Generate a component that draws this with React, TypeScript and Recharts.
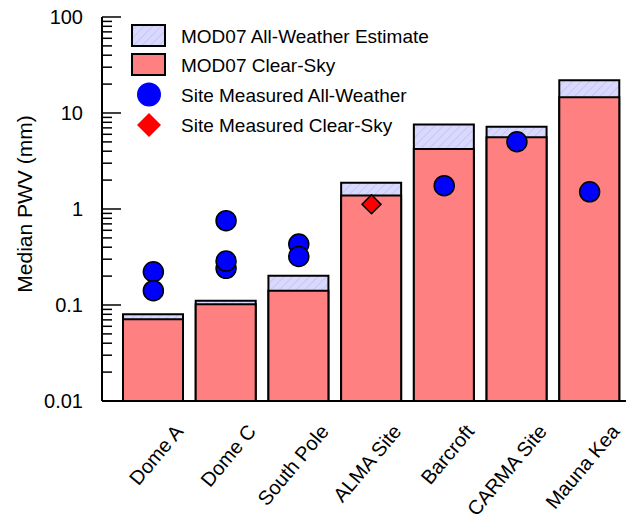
import React from 'react';
import { ComposedChart, Bar, Scatter, XAxis, YAxis, Legend } from 'recharts';

const FONT = '"Liberation Sans", Arial, sans-serif';

const categories = ['Dome A', 'Dome C', 'South Pole', 'ALMA Site', 'Barcroft', 'CARMA Site', 'Mauna Kea'];
const allWeatherEstimate = [0.08, 0.111, 0.202, 1.88, 7.6, 7.2, 22];
const clearSkyEstimate = [0.071, 0.102, 0.141, 1.38, 4.22, 5.58, 14.6];
// site measurements, several per site for the antarctic ones
const siteAllWeather1 = [0.222, 0.755, 0.432, null, 1.75, 5.02, 1.51];
const siteAllWeather2 = [null, 0.241, null, null, null, null, null];
const siteAllWeather3 = [0.141, 0.287, 0.321, null, null, null, null];
const siteClearSky = [null, null, null, 1.12, null, null, null];

const majorTicks = [0.01, 0.1, 1, 10, 100];
const minorSteps = [2, 3, 4, 5, 6, 7, 8, 9];
const legendLabels = [
  'MOD07 All-Weather Estimate',
  'MOD07 Clear-Sky',
  'Site Measured All-Weather',
  'Site Measured Clear-Sky',
];

const yTicks = majorTicks.flatMap((m, i) =>
  i < majorTicks.length - 1 ? [m, ...minorSteps.map((s) => +(m * s).toPrecision(3))] : [m]
);

const data = categories.map((name, i) => ({
  name,
  allWeather: allWeatherEstimate[i],
  clearSky: clearSkyEstimate[i],
  site1: siteAllWeather1[i],
  site2: siteAllWeather2[i],
  site3: siteAllWeather3[i],
  siteClear: siteClearSky[i],
}));

const HatchPattern = ({ id }: { id: string }) => (
  <pattern id={id} width={6} height={6} patternUnits="userSpaceOnUse" patternTransform="rotate(45)">
    <rect width={6} height={6} fill="#d9d9ff" />
    <line x1={0} y1={0} x2={0} y2={6} stroke="#c6c6f0" strokeWidth={2} />
  </pattern>
);

const YTick = (props: any) => {
  const { x, y, payload } = props;
  const major = majorTicks.includes(payload.value);
  return (
    <g>
      <line x1={x} x2={x + (major ? 19 : 10)} y1={y} y2={y} stroke="#000" strokeWidth={1.5} />
      {major && (
        <text x={x - 19} y={y} textAnchor="end" dominantBaseline="central" fontSize={20} fontFamily={FONT} fill="#000">
          {String(payload.value)}
        </text>
      )}
    </g>
  );
};

const XTick = (props: any) => {
  const { x, y, payload } = props;
  const ax = x + 31;
  const ay = y + 31;
  return (
    <text x={ax} y={ay} transform={`rotate(-50, ${ax}, ${ay})`} textAnchor="end" fontSize={20} fontFamily={FONT} fill="#000">
      {payload.value}
    </text>
  );
};

const YLabel = (props: any) => {
  const { viewBox } = props;
  const cx = 24;
  const cy = viewBox.y + viewBox.height / 2 - 5;
  return (
    <text x={cx} y={cy} transform={`rotate(-90, ${cx}, ${cy})`} textAnchor="middle" dominantBaseline="central" fontSize={21} fontFamily={FONT} fill="#000">
      Median PWV (mm)
    </text>
  );
};

const circleShape = (key: string) => (props: any) => {
  const { cx, cy, payload } = props;
  if (payload?.[key] == null || cx == null || cy == null) return <g />;
  return <circle cx={cx} cy={cy} r={10} fill="#0000ff" stroke="#000" strokeWidth={1.5} />;
};

const diamondShape = (key: string) => (props: any) => {
  const { cx, cy, payload } = props;
  if (payload?.[key] == null || cx == null || cy == null) return <g />;
  const d = 9.5;
  return (
    <polygon
      points={`${cx},${cy - d} ${cx + d},${cy} ${cx},${cy + d} ${cx - d},${cy}`}
      fill="#ff0000"
      stroke="#000"
      strokeWidth={1.5}
    />
  );
};

const LegendBox = () => (
  <svg width={628} height={150} style={{ display: 'block' }}>
    <defs>
      <HatchPattern id="legendHatch" />
    </defs>
    <rect x={132} y={25} width={33} height={21} fill="url(#legendHatch)" stroke="#000" strokeWidth={2} />
    <rect x={132} y={54} width={33} height={21} fill="#ff8080" stroke="#000" strokeWidth={2} />
    <circle cx={149} cy={94.5} r={12} fill="#0000ff" />
    <polygon points="149,113 161,125 149,137 137,125" fill="#ff0000" />
    {legendLabels.map((t, i) => (
      <text key={t} x={181} y={[36, 65, 95, 125][i]} dominantBaseline="central" fontSize={19} fontFamily={FONT} fill="#000">
        {t}
      </text>
    ))}
  </svg>
);

export default function App() {
  return (
    <div style={{ position: 'absolute', left: 0, top: 0, width: 628, height: 514, background: '#fff', fontFamily: FONT }}>
      <ComposedChart width={628} height={514} data={data} margin={{ top: 17, right: 2, bottom: 0, left: 0 }} barGap={-60}>
        <defs>
          <HatchPattern id="barHatch" />
        </defs>
        <XAxis
          dataKey="name"
          height={113}
          padding={{ left: 15, right: 0 }}
          axisLine={{ stroke: '#000', strokeWidth: 2 }}
          tickLine={false}
          tickSize={0}
          tickMargin={0}
          interval={0}
          tick={<XTick />}
        />
        <XAxis xAxisId="top" orientation="top" dataKey="name" height={0} tick={false} tickLine={false} axisLine={{ stroke: '#000', strokeWidth: 2 }} />
        <YAxis
          scale="log"
          domain={[0.01, 100]}
          allowDataOverflow
          ticks={yTicks}
          interval={0}
          width={102}
          tickSize={0}
          tickMargin={0}
          tickLine={false}
          tick={<YTick />}
          axisLine={{ stroke: '#000', strokeWidth: 2 }}
          label={{ content: YLabel }}
        />
        <YAxis yAxisId="right" orientation="right" width={0} tick={false} tickLine={false} axisLine={{ stroke: '#8c8c8c', strokeWidth: 1.5 }} />
        <Bar dataKey="allWeather" barSize={60} fill="url(#barHatch)" stroke="#000" strokeWidth={2} isAnimationActive={false} />
        <Bar dataKey="clearSky" barSize={60} fill="#ff8080" stroke="#000" strokeWidth={2} isAnimationActive={false} />
        <Scatter dataKey="site1" shape={circleShape('site1')} isAnimationActive={false} />
        <Scatter dataKey="site2" shape={circleShape('site2')} isAnimationActive={false} />
        <Scatter dataKey="site3" shape={circleShape('site3')} isAnimationActive={false} />
        <Scatter dataKey="siteClear" shape={diamondShape('siteClear')} isAnimationActive={false} />
        <Legend
          layout="vertical"
          align="center"
          verticalAlign="middle"
          wrapperStyle={{ left: 0, top: 0, width: 628, height: 150, pointerEvents: 'none' }}
          content={() => <LegendBox />}
        />
      </ComposedChart>
    </div>
  );
}
